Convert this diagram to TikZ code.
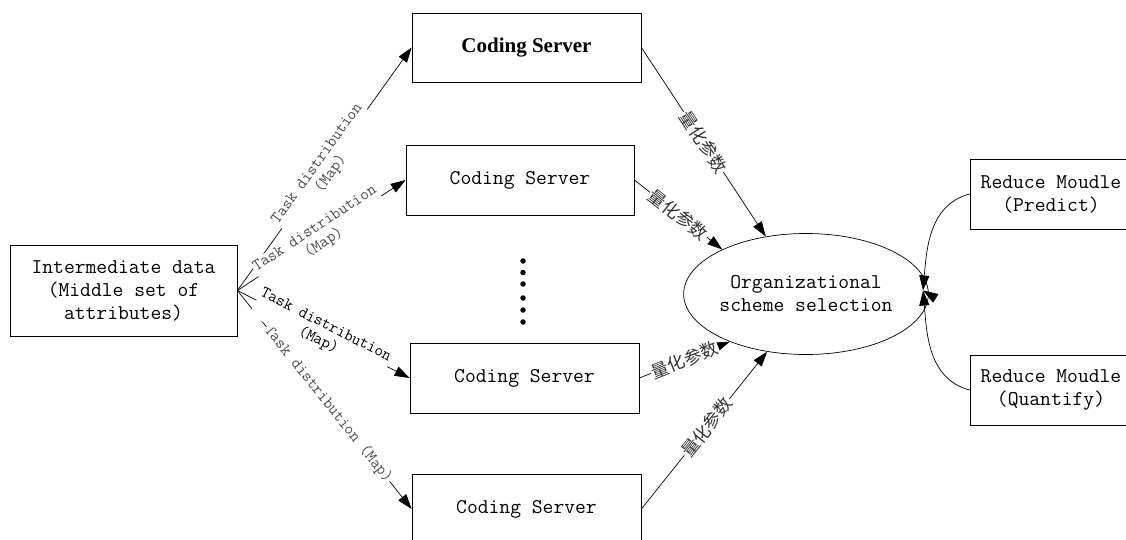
\documentclass[tikz,border=0pt]{standalone}
\usepackage{fontspec}
\newfontfamily\cjk{Noto Sans CJK SC}
\newfontfamily\timesf{Liberation Serif}
\usetikzlibrary{arrows.meta,shapes.geometric}
\begin{document}
\begin{tikzpicture}[x=1pt,y=-1pt,
  box/.style={draw, line width=0.8pt, inner sep=0pt, align=center,
    font=\fontsize{21}{23}\selectfont\ttfamily},
  conn/.style={line width=0.7pt, -{Triangle[length=15pt,width=10pt]}},
  tlab/.style={sloped, fill=white, inner sep=1pt, align=center,
    font=\fontsize{16.5}{17}\selectfont\ttfamily},
  qlab/.style={sloped, fill=white, inner sep=1pt, text=black!80,
    font=\fontsize{17.5}{18}\selectfont\cjk},
  dotm/.style={circle, fill=black, inner sep=0pt, minimum size=5.5pt}]
\useasboundingbox (0,0) rectangle (1126,540);
% nodes
\node[box, minimum width=227pt, minimum height=91pt] (data) at (123.5,290.5)
  {Intermediate data\\(Middle set of\\attributes)};
\node[box, minimum width=229pt, minimum height=69pt,
  font=\fontsize{21}{23}\selectfont\timesf\bfseries] (s1) at (526.5,47.5) {Coding Server};
\node[box, minimum width=228pt, minimum height=70pt] (s2) at (520,180) {Coding Server};
\node[box, minimum width=229pt, minimum height=70pt] (s3) at (524.5,378) {Coding Server};
\node[box, minimum width=229pt, minimum height=70pt] (s4) at (526.5,509) {Coding Server};
\node[box, ellipse, minimum width=184pt, minimum height=121pt, line width=0.7pt] (org) at (806,294)
  {Organizational\\scheme selection};
\node[box, minimum width=162pt, minimum height=70pt] (r1) at (1051,194) {Reduce Moudle\\(Predict)};
\node[box, minimum width=162pt, minimum height=70pt] (r2) at (1051,390) {Reduce Moudle\\(Quantify)};
\coordinate (m) at (923,290.5);
% dots
\foreach \i/\yy in {1/261,2/272.5,3/284,4/298,5/310,6/322}
  \node[dotm] (d\i) at (523,\yy) {};
% left connectors
\draw[conn] (data.east) -- node[tlab, pos=0.5, text=black!70] {Task distribution\\(Map)} (s1.west);
\draw[conn] (data.east) -- node[tlab, pos=0.49, text=black!70] {Task distribution\\(Map)} (s2.west);
\draw[conn] (data.east) -- node[tlab, pos=0.52, text=black!70] {Task distribution (Map)} (s4.west);
\draw[conn] (data.east) -- node[tlab, pos=0.49] {Task distribution\\(Map)} (s3.west);
% right connectors
\draw[conn] (s1.east) -- node[qlab, pos=0.5] {量化参数} (org.125);
\draw[conn] (s2.east) -- node[qlab, pos=0.5] {量化参数} (org.152);
\draw[conn] (s3.east) -- node[qlab, pos=0.5] {量化参数} (org.212);
\draw[conn] (s4.east) -- node[qlab, pos=0.52] {量化参数} (org.236);
\draw[conn] (org.east) -- (m);
\draw[conn] (r1.west) to[out=195, in=85] (m);
\draw[conn] (r2.west) to[out=165, in=-85] (m);
\end{tikzpicture}
\end{document}
